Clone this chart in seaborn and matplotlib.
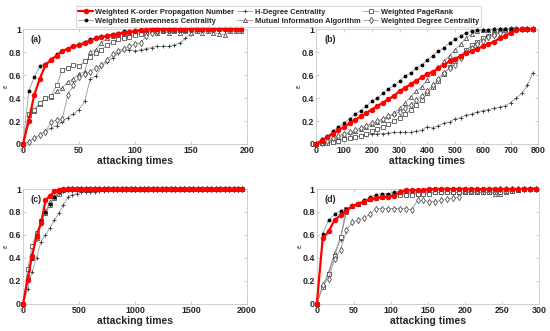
import numpy as np
import pandas as pd
import matplotlib
matplotlib.use("Agg")
import matplotlib.pyplot as plt
import seaborn as sns

# ---- data ----
methods = ["Weighted K-order Propagation Number", "Weighted Betweenness Centrality",
           "H-Degree Centrality", "Mutual Information Algorithm",
           "Weighted PageRank", "Weighted Degree Centrality"]

# panel (a): attacking times 0..195, step 5
a_x = np.arange(0, 200, 5)
a_kpn = [0, 0.20, 0.43, 0.57, 0.69, 0.73, 0.77, 0.81, 0.83, 0.85, 0.86, 0.88, 0.90, 0.92, 0.93,
         0.94, 0.95, 0.96, 0.97, 0.975, 0.98, 0.99, 0.995] + [1] * 17
a_wbc = [0, 0.46, 0.58, 0.68, 0.70, 0.74, 0.78, 0.81, 0.83, 0.85, 0.87, 0.89, 0.91, 0.93, 0.94,
         0.95, 0.96, 0.97, 0.98, 0.985, 0.99, 0.995] + [1] * 18
a_hdc = [0, 0.02, 0.05, 0.08, 0.11, 0.14, 0.16, 0.19, 0.23, 0.26, 0.30, 0.37, 0.57, 0.59, 0.68,
         0.71, 0.75, 0.79, 0.82, 0.82, 0.81, 0.82, 0.83, 0.84, 0.85, 0.85, 0.85, 0.86, 0.88, 0.92,
         0.96, 0.98, 0.98, 0.98, 0.99, 0.99, 0.99, 0.99, 0.99, 0.99]
a_mia = [0, 0.25, 0.29, 0.35, 0.40, 0.41, 0.46, 0.49, 0.54, 0.57, 0.61, 0.63, 0.80, 0.82, 0.88,
         0.92, 0.94, 0.95, 0.96, 0.97, 0.97, 0.98, 0.98, 0.98, 0.97, 0.98, 0.97, 0.98, 0.97, 0.98,
         0.97, 0.98, 0.97, 0.98, 0.97, 0.96, 0.95, 0.98, 0.98, 0.98]
a_wpr = [0, 0.26, 0.30, 0.36, 0.40, 0.42, 0.51, 0.645, 0.66, 0.69, 0.68, 0.72, 0.76, 0.79, 0.82,
         0.86, 0.89, 0.91, 0.92, 0.93, 0.95, 0.96, 0.97, 0.98, 0.98, 0.99, 0.99, 0.99, 0.99, 0.99] + [1] * 10
a_wdc = [0, 0.02, 0.05, 0.08, 0.107, 0.19, 0.21, 0.22, 0.43, 0.51, 0.58, 0.61, 0.63, 0.66, 0.69,
         0.73, 0.78, 0.81, 0.83, 0.85, 0.87, 0.88, 0.94, 0.97, 0.98, 0.99, 0.99] + [1] * 13

# panel (b): attacking times 0..780, step 20
b_x = np.arange(0, 800, 20)
b_kpn = [0, 0.03, 0.06, 0.09, 0.12, 0.15, 0.18, 0.21, 0.24, 0.27, 0.30, 0.33, 0.36, 0.39, 0.42,
         0.46, 0.49, 0.52, 0.55, 0.58, 0.61, 0.63, 0.66, 0.69, 0.72, 0.74, 0.77, 0.79, 0.81, 0.83,
         0.85, 0.87, 0.89, 0.92, 0.94, 0.97, 0.99, 1, 1, 1]
b_wbc = [0, 0.04, 0.07, 0.11, 0.15, 0.18, 0.22, 0.26, 0.29, 0.33, 0.37, 0.40, 0.44, 0.48, 0.51,
         0.55, 0.59, 0.62, 0.66, 0.69, 0.73, 0.77, 0.81, 0.84, 0.88, 0.91, 0.94, 0.97, 0.98, 0.99,
         0.99, 0.995] + [1] * 8
b_hdc = [0, 0.005, 0.01, 0.02, 0.03, 0.04, 0.05, 0.06, 0.07, 0.08, 0.085, 0.09, 0.09, 0.095, 0.10,
         0.10, 0.10, 0.10, 0.11, 0.12, 0.15, 0.14, 0.16, 0.18, 0.19, 0.22, 0.23, 0.25, 0.26, 0.28,
         0.29, 0.30, 0.31, 0.32, 0.33, 0.36, 0.40, 0.44, 0.51, 0.62]
b_mia = [0, 0.01, 0.02, 0.04, 0.06, 0.08, 0.10, 0.11, 0.13, 0.15, 0.17, 0.19, 0.21, 0.24, 0.27,
         0.31, 0.36, 0.41, 0.46, 0.50, 0.56, 0.62, 0.67, 0.72, 0.77, 0.82, 0.87, 0.92, 0.96, 0.98,
         0.99, 0.99] + [1] * 8
b_wpr = [0, 0.005, 0.01, 0.02, 0.03, 0.04, 0.05, 0.06, 0.07, 0.09, 0.11, 0.13, 0.15, 0.17, 0.20,
         0.23, 0.26, 0.30, 0.34, 0.38, 0.44, 0.50, 0.55, 0.61, 0.67, 0.72, 0.77, 0.82, 0.86, 0.89,
         0.92, 0.94, 0.96, 0.98, 0.99, 1, 1, 1, 1, 1]
b_wdc = [0, 0.01, 0.03, 0.05, 0.07, 0.09, 0.10, 0.12, 0.14, 0.16, 0.18, 0.20, 0.22, 0.24, 0.26,
         0.28, 0.31, 0.34, 0.38, 0.42, 0.46, 0.51, 0.57, 0.62, 0.66, 0.69, 0.75, 0.80, 0.84, 0.87,
         0.90, 0.93, 0.95, 0.97, 0.99, 1, 1, 1, 1, 1]

# panel (c): attacking times 0..1960, step 40
c_x = np.arange(0, 2000, 40)
c_kpn = [0, 0.21, 0.42, 0.59, 0.70, 0.90, 0.94, 0.98, 0.99] + [1] * 41
c_wbc = [0, 0.22, 0.40, 0.58, 0.73, 0.80, 0.87, 0.93, 0.97, 0.99] + [1] * 40
c_hdc = [0, 0.13, 0.28, 0.40, 0.54, 0.60, 0.66, 0.73, 0.79, 0.86, 0.93, 0.95, 0.96, 0.97, 0.97,
         0.97, 0.975, 0.98, 0.98, 0.99] + [1] * 30
c_mia = [0, 0.24, 0.40, 0.57, 0.72, 0.80, 0.88, 0.93, 0.97, 0.99] + [1] * 40
c_wpr = [0, 0.30, 0.50, 0.62, 0.72, 0.79, 0.86, 0.92, 0.96, 0.99] + [1] * 40
c_wdc = [0, 0.23, 0.41, 0.57, 0.71, 0.80, 0.88, 0.93, 0.97, 0.99] + [1] * 40

# panel (d): attacking times 0..296, step 8
d_x = np.arange(0, 300, 8)
d_kpn = [0, 0.57, 0.63, 0.73, 0.77, 0.81, 0.85, 0.87, 0.89, 0.91, 0.92, 0.93, 0.93, 0.94, 0.97,
         0.99, 0.99, 0.99, 0.99] + [1] * 19
d_wbc = [0, 0.61, 0.73, 0.78, 0.81, 0.83, 0.85, 0.87, 0.90, 0.93, 0.95, 0.96, 0.96, 0.97, 0.98,
         0.98, 0.99, 0.99, 0.99, 0.99] + [1] * 18
d_hdc = [0, 0.15, 0.28, 0.43, 0.56, 0.82, 0.86, 0.88, 0.90, 0.92, 0.93, 0.94, 0.95, 0.96, 0.96,
         0.97, 0.97, 0.97, 0.98, 0.98] + [1] * 18
d_mia = [0, 0.16, 0.27, 0.44, 0.57, 0.80, 0.85, 0.87, 0.89, 0.91, 0.93, 0.94, 0.95, 0.95, 0.96,
         0.96, 0.96, 0.96, 0.97, 0.97] + [0.97] * 10 + [0.96, 0.96, 0.97, 0.98, 0.99, 1, 1, 1]
d_wpr = [0, 0.15, 0.26, 0.42, 0.58, 0.83, 0.85, 0.87, 0.89, 0.91, 0.92, 0.93, 0.94, 0.95, 0.95,
         0.95, 0.95, 0.96, 0.96, 0.96] + [0.97] * 12 + [0.98, 0.98, 0.99, 1, 1, 1]
d_wdc = [0, 0.16, 0.22, 0.39, 0.47, 0.64, 0.71, 0.73, 0.75, 0.78, 0.83, 0.83, 0.83, 0.83, 0.83,
         0.83, 0.82, 0.90, 0.90, 0.89, 0.89, 0.90, 0.91, 0.92, 0.93, 0.98, 0.98, 0.98, 0.99, 0.99,
         0.99] + [1] * 7

panels = [
    ("(a)", a_x, [a_kpn, a_wbc, a_hdc, a_mia, a_wpr, a_wdc], 200, [0, 50, 100, 150, 200]),
    ("(b)", b_x, [b_kpn, b_wbc, b_hdc, b_mia, b_wpr, b_wdc], 800, list(range(0, 801, 100))),
    ("(c)", c_x, [c_kpn, c_wbc, c_hdc, c_mia, c_wpr, c_wdc], 2000, [0, 500, 1000, 1500, 2000]),
    ("(d)", d_x, [d_kpn, d_wbc, d_hdc, d_mia, d_wpr, d_wdc], 300, [0, 50, 100, 150, 200, 250, 300]),
]

# ---- styles ----
gray = "#999999"
styles = [
    dict(color="#ff0000", lw=1.6, marker="o", ms=3.2, mfc="#ff0000", mec="#ff0000", zorder=5),
    dict(color=gray, lw=0.6, marker="o", ms=2.0, mfc="black", mec="black", zorder=4),
    dict(color=gray, lw=0.6, marker="+", ms=3.2, mfc="none", mec="#333333", mew=0.6, zorder=3),
    dict(color=gray, lw=0.6, marker="^", ms=3.0, mfc="white", mec="#333333", mew=0.5, zorder=3),
    dict(color=gray, lw=0.6, marker="s", ms=2.7, mfc="white", mec="#333333", mew=0.5, zorder=3),
    dict(color=gray, lw=0.6, marker="d", ms=3.2, mfc="white", mec="#333333", mew=0.5, zorder=3),
]

sns.set_theme(style="white")
plt.rcParams["font.family"] = ["Liberation Sans", "DejaVu Sans"]
plt.rcParams["font.weight"] = "bold"

fig = plt.figure(figsize=(5.5, 3.31), dpi=100)
positions = [
    [0.042, 0.565, 0.407, 0.347],
    [0.575, 0.565, 0.404, 0.347],
    [0.042, 0.082, 0.407, 0.347],
    [0.576, 0.082, 0.404, 0.347],
]

for (tag, xs, series, xmax, xticks), pos in zip(panels, positions):
    ax = fig.add_axes(pos)
    for name, ys, st in zip(methods, series, styles):
        df = pd.DataFrame({"t": xs, "eps": ys})
        sns.lineplot(data=df, x="t", y="eps", ax=ax, label=name, legend=False,
                     clip_on=False, **st)
    ax.set_xlim(0, xmax)
    ax.set_ylim(0, 1)
    ax.set_xticks(xticks)
    ax.set_xticklabels([str(t) for t in xticks])
    ax.set_yticks([0, 0.2, 0.4, 0.6, 0.8, 1])
    ax.set_yticklabels(["0", "0.2", "0.4", "0.6", "0.8", "1"])
    ax.tick_params(axis="both", labelsize=6.4, direction="in", length=2.5, width=0.5,
                   color="#bbbbbb", pad=1.5, labelcolor="#262626")
    ax.tick_params(axis="both", top=True, right=True, bottom=True, left=True)
    for lab in ax.get_xticklabels() + ax.get_yticklabels():
        lab.set_fontweight("bold")
    for sp in ax.spines.values():
        sp.set_color("#c8c8c8")
        sp.set_linewidth(0.6)
    ax.set_xlabel("attacking times", fontsize=7.5, fontweight="bold", labelpad=1, color="#262626")
    ax.set_ylabel("ε", fontsize=6, color="#262626")
    ax.yaxis.set_label_coords(-0.06, 0.5)
    ax.text(0.035, 0.91, tag, transform=ax.transAxes, fontsize=6.4, fontweight="bold",
            va="center", ha="left", color="#262626")
    if tag == "(a)":
        handles, labels = ax.get_legend_handles_labels()

leg = fig.legend(handles, labels, ncol=3, loc="upper left", bbox_to_anchor=(0.131, 0.993),
                 fontsize=5.4, frameon=True, handlelength=2.0, handletextpad=0.3,
                 columnspacing=0.4, labelspacing=0.25, borderpad=0.3, fancybox=False)
leg.get_frame().set_edgecolor("#c8c8c8")
leg.get_frame().set_linewidth(0.6)
for t in leg.get_texts():
    t.set_fontweight("bold")

fig.savefig("out.png", dpi=100)
